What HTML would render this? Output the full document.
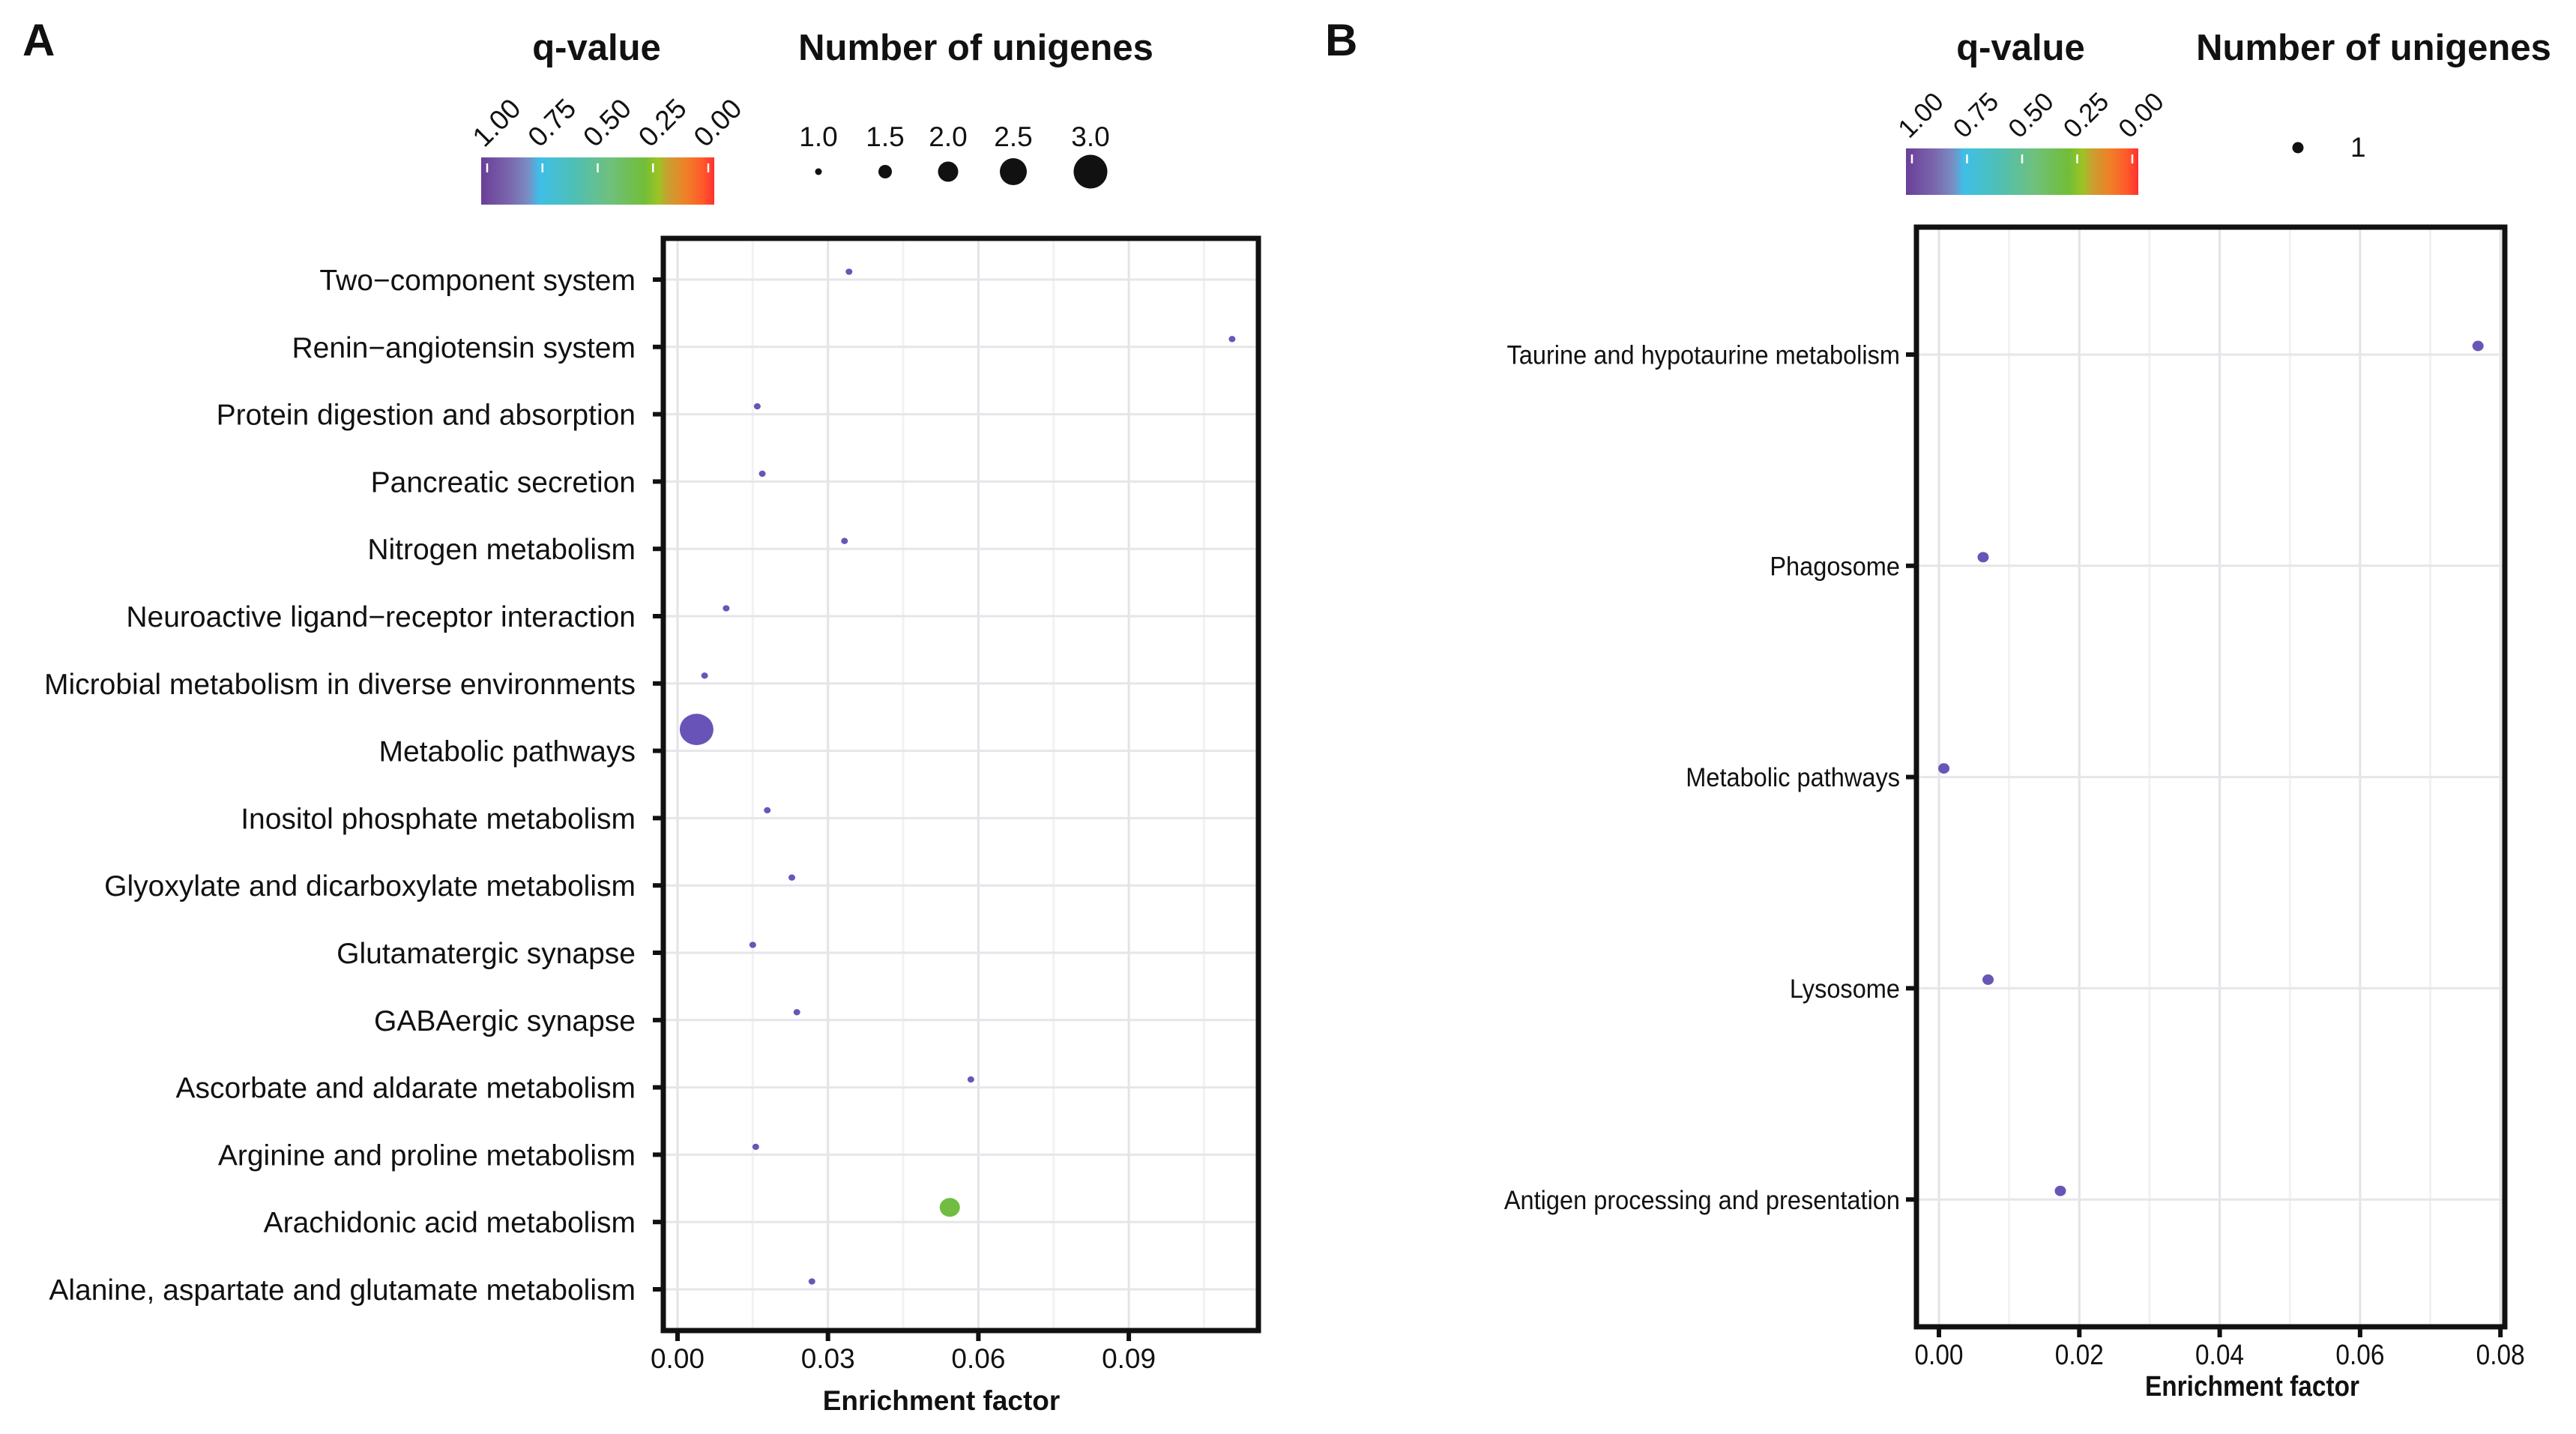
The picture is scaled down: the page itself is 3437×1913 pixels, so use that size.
<!DOCTYPE html>
<html><head><meta charset="utf-8"><style>
html,body{margin:0;padding:0;background:#fff;}
svg{display:block;font-family:"Liberation Sans",Arial,sans-serif;}
</style></head><body>
<svg id="fig" width="3437" height="1913" viewBox="0 0 3437 1913" xmlns="http://www.w3.org/2000/svg">
<defs>
<linearGradient id="qgrad" x1="0" x2="1" y1="0" y2="0">
<stop offset="0" stop-color="#6a3f98"/><stop offset="0.12" stop-color="#7a66ad"/><stop offset="0.2" stop-color="#7a8cc2"/>
<stop offset="0.25" stop-color="#3ebfe8"/><stop offset="0.4" stop-color="#4fbfb5"/><stop offset="0.55" stop-color="#6ec07e"/>
<stop offset="0.7" stop-color="#72bd38"/><stop offset="0.76" stop-color="#9cc424"/><stop offset="0.8" stop-color="#c8a030"/>
<stop offset="0.88" stop-color="#f07f28"/><stop offset="0.95" stop-color="#ff5a2a"/><stop offset="1" stop-color="#ff3030"/>
</linearGradient>
</defs>
<g id="panelA"></g>
<g id="panelB"></g>
</svg>
<script>
// Panel A data
const catsA = ["Two\u2212component system","Renin\u2212angiotensin system","Protein digestion and absorption","Pancreatic secretion","Nitrogen metabolism","Neuroactive ligand\u2212receptor interaction","Microbial metabolism in diverse environments","Metabolic pathways","Inositol phosphate metabolism","Glyoxylate and dicarboxylate metabolism","Glutamatergic synapse","GABAergic synapse","Ascorbate and aldarate metabolism","Arginine and proline metabolism","Arachidonic acid metabolism","Alanine, aspartate and glutamate metabolism"];
const enrichA = [0.0342,0.1106,0.0159,0.0169,0.0333,0.0097,0.0054,0.0038,0.0179,0.0228,0.0150,0.0238,0.0585,0.0156,0.0543,0.0268];
const countA = [1,1,1,1,1,1,1,3,1,1,1,1,1,1,2,1];
const qA = [0.98,0.98,0.98,0.98,0.98,0.98,0.98,0.99,0.98,0.98,0.98,0.98,0.98,0.98,0.32,0.98];
const xTicksA = [0,0.03,0.06,0.09];
const xTickLabelsA = ["0.00","0.03","0.06","0.09"];
// Panel B data
const catsB = ["Taurine and hypotaurine metabolism","Phagosome","Metabolic pathways","Lysosome","Antigen processing and presentation"];
const enrichB = [0.0768,0.0063,0.0007,0.0070,0.0173];
const countB = [1,1,1,1,1];
const qB = [0.98,0.98,0.98,0.98,0.98];
const xTicksB = [0,0.02,0.04,0.06,0.08];
const xTickLabelsB = ["0.00","0.02","0.04","0.06","0.08"];
const qTickVals = [1,0.75,0.5,0.25,0];
const qTickLabels = ["1.00","0.75","0.50","0.25","0.00"];
const sizeLegendA = [1,1.5,2,2.5,3];
const sizeLegendLabelsA = ["1.0","1.5","2.0","2.5","3.0"];
const sizeLegendB = [1];
const sizeLegendLabelsB = ["1"];

const NS="http://www.w3.org/2000/svg";
function mk(parent,tag,attrs,text){const e=document.createElementNS(NS,tag);for(const k in attrs)e.setAttribute(k,attrs[k]);if(text!==undefined)e.textContent=text;parent.appendChild(e);return e;}
function qColor(q){
  const stops=[[0,[255,48,48]],[0.05,[255,90,42]],[0.12,[240,127,40]],[0.2,[200,160,48]],[0.24,[156,196,36]],[0.3,[114,189,56]],[0.45,[110,192,126]],[0.6,[79,191,181]],[0.75,[62,191,232]],[0.8,[122,140,194]],[0.88,[122,102,173]],[1,[102,82,185]]];
  for(let i=1;i<stops.length;i++){if(q<=stops[i][0]){const a=stops[i-1],b=stops[i];const t=(q-a[0])/(b[0]-a[0]);const c=a[1].map((v,j)=>Math.round(v+(b[1][j]-v)*t));return `rgb(${c[0]},${c[1]},${c[2]})`;}}
  return "rgb(102,82,185)";
}

function panel(g,o){
  const xs=v=>o.x0px+(v/o.xstep)*o.stepPx;
  const ys=i=>o.row0+i*o.rowStep;
  for(let k=0;k<o.xTicks.length;k++){
    const mv=o.xTicks[k]+o.xstep/2; const mx=xs(mv);
    if(mx<o.right){const l=mk(g,'line',{x1:mx,x2:mx,y1:o.top,y2:o.bottom,stroke:'#f2f2f4','stroke-width':3});
      
      }
  }
  o.xTicks.forEach((v,k)=>{const x=xs(v);
    const l=mk(g,'line',{x1:x,x2:x,y1:o.top,y2:o.bottom,stroke:'#e3e3e8','stroke-width':3});
    
    
    const t=mk(g,'line',{x1:x,x2:x,y1:o.bottom,y2:o.bottom+14,stroke:'#111','stroke-width':6});
    
    
    const tx=mk(g,'text',{x:x,y:o.xLabY,'text-anchor':'middle','font-size':o.tickFs,fill:'#111',transform:o.condense?`translate(${x},0) scale(0.88,1) translate(${-x},0)`:''},o.xTickLabels[k]);
    
    
  });
  o.cats.forEach((c,i)=>{const y=ys(i);
    const l=mk(g,'line',{x1:o.left,x2:o.right,y1:y,y2:y,stroke:'#e6e6ea','stroke-width':3});
    
    
    const t=mk(g,'line',{x1:o.left-14,x2:o.left,y1:y,y2:y,stroke:'#111','stroke-width':6});
    
    
    const lx=o.left-o.labGap;
    const tx=mk(g,'text',{x:lx,y:y+o.yFs*0.36,'text-anchor':'end','font-size':o.yFs,fill:'#111',transform:o.condense?`translate(${lx},0) scale(${o.labScale},1) translate(${-lx},0)`:''},c);
    
    
  });
  o.vals.forEach((v,i)=>{const r=o.rad(o.counts[i]);
    const p=mk(g,'ellipse',{cx:xs(v),cy:ys(i)-r-o.dotOff,rx:r,ry:r*0.93,fill:qColor(o.qs[i])});
    
    
  });
  const b=mk(g,'rect',{x:o.left,y:o.top,width:o.right-o.left,height:o.bottom-o.top,fill:'none',stroke:'#111','stroke-width':7});
  
  
  const xt=mk(g,'text',{x:o.xTitleX,y:o.xTitleY,'text-anchor':'middle','font-size':o.xTitleFs,'font-weight':'bold',fill:'#111',transform:o.condense?`translate(${o.xTitleX},0) scale(0.88,1) translate(${-o.xTitleX},0)`:''},'Enrichment factor');
  
  
  const L=o.leg;
  const qt=mk(g,'text',{x:L.qTitleX,y:L.titleY,'text-anchor':'middle','font-size':49,'font-weight':'bold',fill:'#111'},'q-value');
  
  
  const cb=mk(g,'rect',{x:L.cbX,y:L.cbY,width:L.cbW,height:L.cbH,fill:'url(#qgrad)'});
  
  
  qTickVals.forEach((q,k)=>{const x=L.cbX+8+(1-q)*(L.cbW-16);
    const t=mk(g,'line',{x1:x,x2:x,y1:L.cbY+8,y2:L.cbY+20,stroke:'#fff','stroke-width':2.5});
    
    
    const tx=mk(g,'text',{x:x-4,y:L.cbY-12,'font-size':L.qFs,fill:'#111',transform:`rotate(-45 ${x-4} ${L.cbY-12})`},qTickLabels[k]);
    
    
  });
  const nt=mk(g,'text',{x:L.nTitleX,y:L.titleY,'text-anchor':'middle','font-size':49,'font-weight':'bold',fill:'#111'},'Number of unigenes');
  
  
  L.sizes.forEach((s,k)=>{const x=L.sizeX[k];
    const c=mk(g,'circle',{cx:x,cy:L.sizeY,r:o.rad(s)*L.legScale,fill:'#111'});
    
    
    const tx=mk(g,'text',{x:L.sideLabel?x+70:x,y:L.sideLabel?L.sizeY+12:L.sizeY-34,'text-anchor':L.sideLabel?'start':'middle','font-size':37,fill:'#111'},L.sizeLabels[k]);
    
    
  });
  const pl=mk(g,'text',{x:o.letterX,y:74,'font-size':60,'font-weight':'bold',fill:'#111'},o.letter);
  
  
}

panel(document.getElementById('panelA'),{
  cats:catsA,vals:enrichA,counts:countA,qs:qA,xTicks:xTicksA,xTickLabels:xTickLabelsA,xstep:0.03,
  x0px:904,stepPx:200.7,left:885,right:1679,top:318,bottom:1775,row0:373,rowStep:89.8,
  tickFs:37,yFs:39,labGap:37,labScale:1,xLabY:1825,xTitleX:1256,xTitleY:1881,xTitleFs:37,condense:false,dotOff:6,
  rad:n=>4.5+(n-1)*9,letter:'A',letterX:30,
  leg:{qTitleX:796,titleY:80,cbX:642,cbY:210,cbW:311,cbH:63,qFs:37,nTitleX:1302,
       sizes:sizeLegendA,sizeLabels:sizeLegendLabelsA,sizeX:[1092,1181,1265,1352,1455],sizeY:229,legScale:1,sideLabel:false}
});
panel(document.getElementById('panelB'),{
  cats:catsB,vals:enrichB,counts:countB,qs:qB,xTicks:xTicksB,xTickLabels:xTickLabelsB,xstep:0.02,
  x0px:2587,stepPx:187.3,left:2557,right:3342,top:303,bottom:1770,row0:473,rowStep:281.8,
  tickFs:38,yFs:35,labGap:22,labScale:0.93,xLabY:1820,xTitleX:3005,xTitleY:1862,xTitleFs:38,condense:true,dotOff:4,
  rad:n=>7.5,letter:'B',letterX:1768,
  leg:{qTitleX:2696,titleY:80,cbX:2543,cbY:198,cbW:310,cbH:62,qFs:35,nTitleX:3167,
       sizes:sizeLegendB,sizeLabels:sizeLegendLabelsB,sizeX:[3066],sizeY:197,legScale:1,sideLabel:true}
});
</script>
</body></html>
